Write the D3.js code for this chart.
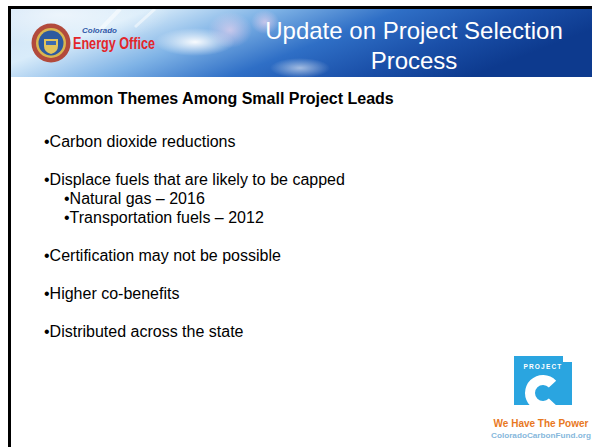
<!DOCTYPE html>
<html>
<head>
<meta charset="utf-8">
<script src="https://cdn.jsdelivr.net/npm/d3@7"></script>
<style>
  body { margin: 0; background: #fff; }
  svg { display: block; font-family: Arial, "Liberation Sans", sans-serif; }
</style>
</head>
<body>
<div id="container"></div>
<script>
// slide content
var titleLines = ["Update on Project Selection", "Process"];
var heading = "Common Themes Among Small Project Leads";
var bulletTexts = [
    "Carbon dioxide reductions",
    "Displace fuels that are likely to be capped",
    "Natural gas \u2013 2016",
    "Transportation fuels \u2013 2012",
    "Certification may not be possible",
    "Higher co-benefits",
    "Distributed across the state"
];
var bulletLevels = [0, 0, 1, 1, 0, 0, 0];
var logoWords = ["Colorado", "Energy Office"];
var badgeWords = ["PROJECT", "We Have The Power", "ColoradoCarbonFund.org"];

var init = function(){
    var W = 592, H = 447;
    var container = d3.select("#container");
    container.html("");

    var svg = container.append("svg")
        .attr("width", W)
        .attr("height", H);
    var defs = svg.append("defs");

    // header sky gradient
    var sky = defs.append("linearGradient")
        .attr("id", "sky")
        .attr("x1", "0").attr("y1", "0")
        .attr("x2", "1").attr("y2", "0.3");
    [[0, "#cfe3f6"], [0.22, "#d9ecfa"], [0.42, "#7fb3e6"],
     [0.62, "#2f6fc6"], [0.82, "#1a4fa8"], [1, "#0d3a8e"]].forEach(function(s){
        sky.append("stop").attr("offset", s[0]).attr("stop-color", s[1]);
    });
    var flare = defs.append("radialGradient").attr("id", "flare");
    flare.append("stop").attr("offset", 0).attr("stop-color", "#fff").attr("stop-opacity", 0.95);
    flare.append("stop").attr("offset", 1).attr("stop-color", "#fff").attr("stop-opacity", 0);
    var pink = defs.append("radialGradient").attr("id", "pink");
    pink.append("stop").attr("offset", 0).attr("stop-color", "#e9d2ee").attr("stop-opacity", 0.7);
    pink.append("stop").attr("offset", 1).attr("stop-color", "#e9d2ee").attr("stop-opacity", 0);

    defs.append("clipPath").attr("id", "hdrclip")
        .append("rect").attr("x", 11).attr("y", 9).attr("width", W - 11).attr("height", 68);

    // frame lines
    svg.append("rect").attr("x", 8).attr("y", 6).attr("width", W - 8).attr("height", 3).attr("fill", "#000");
    svg.append("rect").attr("x", 8).attr("y", 6).attr("width", 3).attr("height", H - 6).attr("fill", "#000");

    var hdr = svg.append("g").attr("clip-path", "url(#hdrclip)");
    hdr.append("rect").attr("x", 11).attr("y", 9).attr("width", W - 11).attr("height", 68)
        .attr("fill", "url(#sky)");
    hdr.append("ellipse").attr("cx", 60).attr("cy", 15).attr("rx", 110).attr("ry", 30).attr("fill", "url(#flare)").attr("opacity", 0.6);
    hdr.append("ellipse").attr("cx", 195).attr("cy", 42).attr("rx", 40).attr("ry", 14).attr("fill", "url(#flare)");
    hdr.append("ellipse").attr("cx", 230).attr("cy", 30).attr("rx", 22).attr("ry", 18).attr("fill", "url(#pink)");
    hdr.append("ellipse").attr("cx", 265).attr("cy", 22).attr("rx", 14).attr("ry", 12).attr("fill", "url(#pink)");
    hdr.append("ellipse").attr("cx", 300).attr("cy", 68).attr("rx", 30).attr("ry", 10).attr("fill", "url(#flare)").attr("opacity", 0.6);
    hdr.append("line").attr("x1", 120).attr("y1", 9).attr("x2", 100).attr("y2", 30)
        .attr("stroke", "#fff").attr("stroke-width", 4).attr("opacity", 0.5);
    hdr.append("line").attr("x1", 155).attr("y1", 9).attr("x2", 135).attr("y2", 27)
        .attr("stroke", "#fff").attr("stroke-width", 3).attr("opacity", 0.5);

    // title
    hdr.selectAll("text.title").data(titleLines).enter().append("text")
        .classed("title", true)
        .attr("x", 414)
        .attr("y", function(d, i){ return 39 + i * 30; })
        .attr("text-anchor", "middle")
        .attr("fill", "#fff")
        .style("font-size", "24px")
        .text(function(d){ return d; });

    // energy office seal
    var seal = svg.append("g").attr("transform", "translate(51,43)");
    seal.append("circle").attr("r", 19.5).attr("fill", "#b24a3c");
    seal.append("circle").attr("r", 15).attr("fill", "#d9b650");
    seal.append("circle").attr("r", 12.5).attr("fill", "#2d5aa0");
    seal.append("path").attr("d", "M-7,-4 L7,-4 L7,3 Q7,9 0,11 Q-7,9 -7,3 Z").attr("fill", "#e2c45c");
    seal.append("rect").attr("x", -5).attr("y", -2).attr("width", 10).attr("height", 4).attr("fill", "#3d6bb0");

    svg.append("text")
        .attr("x", 82).attr("y", 33)
        .attr("fill", "#3159a8")
        .style("font-size", "6.5px").style("font-style", "italic").style("font-weight", "bold")
        .attr("textLength", 35).attr("lengthAdjust", "spacingAndGlyphs")
        .text(logoWords[0]);
    svg.append("text")
        .attr("x", 73).attr("y", 49)
        .attr("fill", "#e3262b")
        .style("font-size", "16px").style("font-weight", "bold")
        .attr("textLength", 82).attr("lengthAdjust", "spacingAndGlyphs")
        .text(logoWords[1]);

    // body text
    svg.append("text")
        .attr("x", 44).attr("y", 104)
        .attr("fill", "#000")
        .style("font-size", "16px").style("font-weight", "bold")
        .text(heading);

    var paraGap = 38, lineGap = 19;
    var ys = [];
    var y = 147;
    bulletTexts.forEach(function(t, i){
        if (i > 0) y += bulletLevels[i] == 1 ? lineGap : paraGap;
        ys.push(y);
    });
    var indent = d3.scaleOrdinal().domain([0, 1]).range([44, 64]);

    svg.selectAll("text.bullet").data(bulletTexts).enter().append("text")
        .classed("bullet", true)
        .attr("x", function(d, i){ return indent(bulletLevels[i]); })
        .attr("y", function(d, i){ return ys[i]; })
        .attr("fill", "#000")
        .style("font-size", "16px")
        .text(function(d){ return "\u2022" + d; });

    // project C badge
    var bx = 514, by = 356, bw = 58, bh = 49;
    defs.append("clipPath").attr("id", "badgeclip")
        .append("rect").attr("x", bx).attr("y", by).attr("width", bw).attr("height", bh);
    var badge = svg.append("g");
    badge.append("rect").attr("x", bx).attr("y", by).attr("width", bw).attr("height", bh)
        .attr("fill", "#2aa5e0");
    badge.append("rect").attr("x", bx + bw - 9).attr("y", by).attr("width", 9).attr("height", 6)
        .attr("fill", "#fff");
    badge.append("text")
        .attr("x", bx + bw / 2).attr("y", by + 13)
        .attr("text-anchor", "middle")
        .attr("fill", "#fff")
        .style("font-size", "6.5px").style("font-weight", "bold")
        .style("letter-spacing", "1.2px")
        .text(badgeWords[0]);
    var cArc = d3.arc().innerRadius(8).outerRadius(18)
        .startAngle(Math.PI / 2 + 0.75).endAngle(Math.PI * 2.5 - 0.75);
    badge.append("g").attr("clip-path", "url(#badgeclip)")
        .append("path")
        .attr("transform", "translate(" + (bx + bw / 2) + "," + (by + 37) + ")")
        .attr("d", cArc())
        .attr("fill", "#fff");
    svg.append("text")
        .attr("x", 541).attr("y", 427)
        .attr("text-anchor", "middle")
        .attr("fill", "#e8781e")
        .style("font-size", "10px").style("font-weight", "bold")
        .text(badgeWords[1]);
    svg.append("text")
        .attr("x", 491).attr("y", 438)
        .attr("fill", "#86b8dc")
        .style("font-size", "8px").style("font-weight", "bold")
        .attr("textLength", 100).attr("lengthAdjust", "spacingAndGlyphs")
        .text(badgeWords[2]);
};

init();
</script>
</body>
</html>
